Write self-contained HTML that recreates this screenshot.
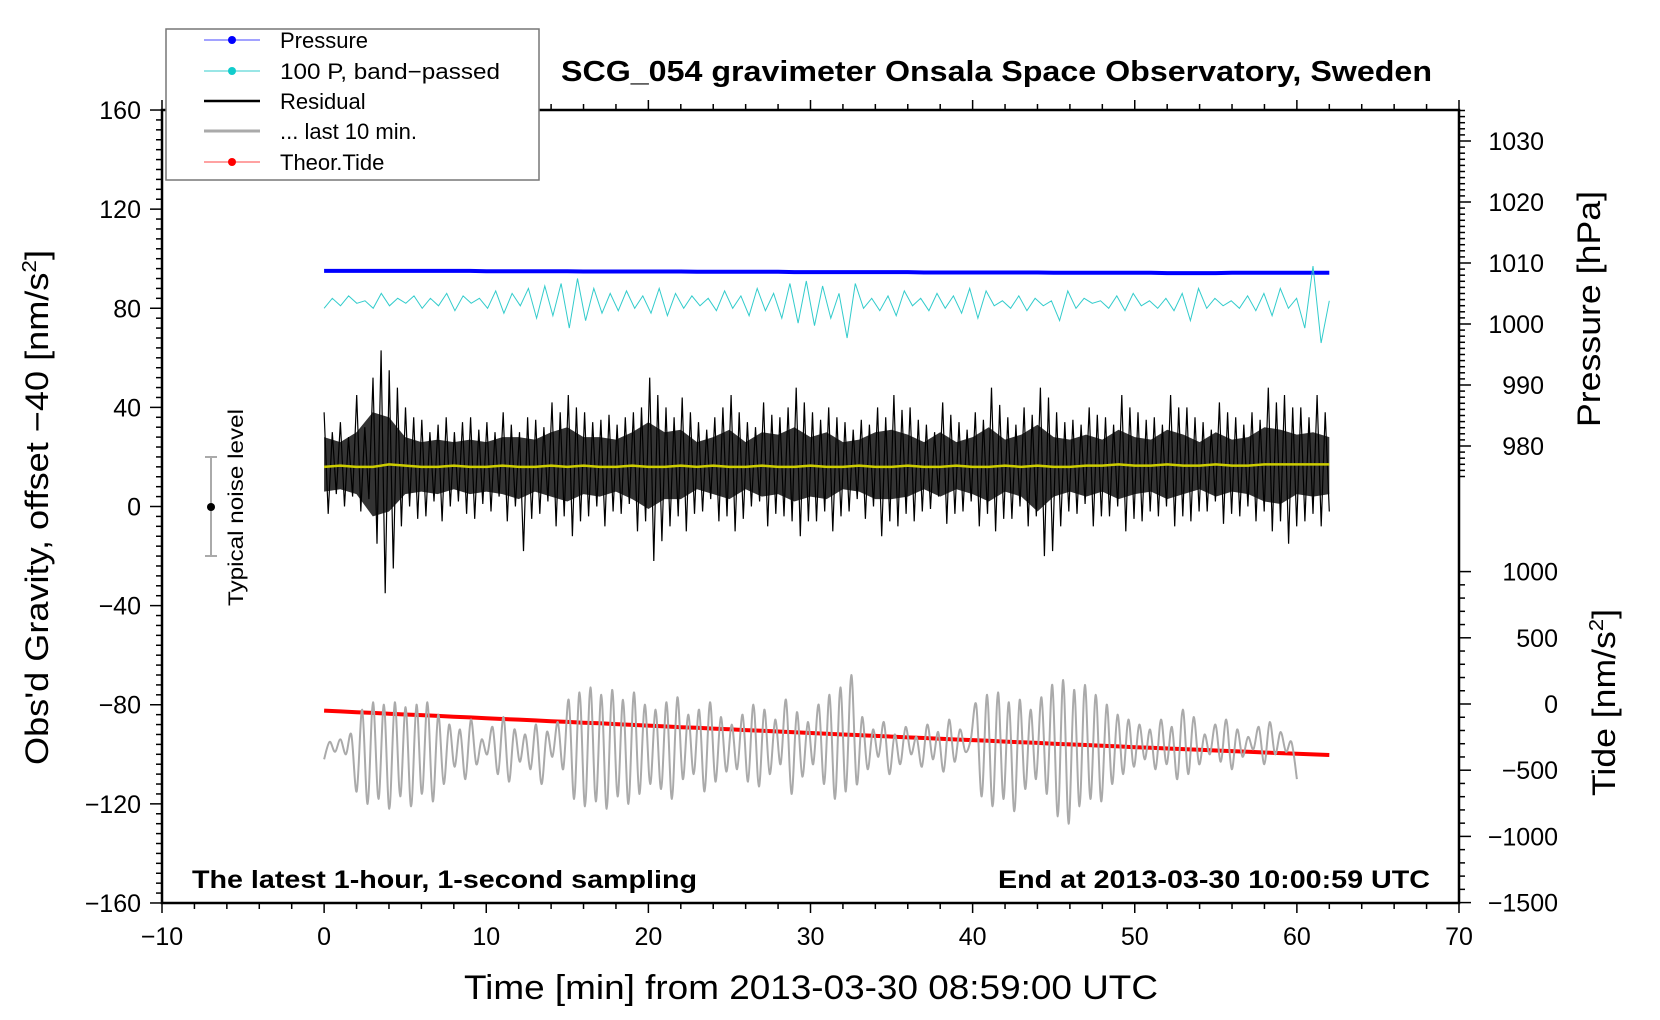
<!DOCTYPE html>
<html><head><meta charset="utf-8"><style>
body{margin:0;background:#fff}
svg{display:block;font-family:"Liberation Sans",Arial,sans-serif}
</style></head><body>
<svg id="chart" width="1660" height="1020" viewBox="0 0 1660 1020">
<g id="plot"></g>
<g id="axes"></g>
<text x="561" y="81" font-size="29" font-weight="bold" textLength="871" lengthAdjust="spacingAndGlyphs">SCG_054 gravimeter Onsala Space Observatory, Sweden</text>
<text x="192" y="888" font-size="25" font-weight="bold" textLength="505" lengthAdjust="spacingAndGlyphs">The latest 1-hour, 1-second sampling</text>
<text x="998" y="888" font-size="25" font-weight="bold" textLength="432" lengthAdjust="spacingAndGlyphs">End at 2013-03-30 10:00:59 UTC</text>
<text x="464" y="999" font-size="34" textLength="694" lengthAdjust="spacingAndGlyphs">Time [min] from 2013-03-30 08:59:00 UTC</text>
<text transform="translate(48,765) rotate(-90)" font-size="32" textLength="515" lengthAdjust="spacingAndGlyphs">Obs'd Gravity, offset −40 [nm/s<tspan font-size="20" dy="-12">2</tspan><tspan dy="12">]</tspan></text>
<text transform="translate(1600,427) rotate(-90)" font-size="32" textLength="236" lengthAdjust="spacingAndGlyphs">Pressure [hPa]</text>
<text transform="translate(1615,796) rotate(-90)" font-size="32" textLength="187" lengthAdjust="spacingAndGlyphs">Tide [nm/s<tspan font-size="20" dy="-12">2</tspan><tspan dy="12">]</tspan></text>
<g>
<line x1="211" y1="457" x2="211" y2="556" stroke="#aaa" stroke-width="2"/>
<line x1="205" y1="457" x2="217" y2="457" stroke="#aaa" stroke-width="2"/>
<line x1="205" y1="556" x2="217" y2="556" stroke="#aaa" stroke-width="2"/>
<circle cx="211" cy="507" r="4" fill="#000"/>
<text transform="translate(243,606) rotate(-90)" font-size="21" textLength="197" lengthAdjust="spacingAndGlyphs">Typical noise level</text>
</g>
<g>
<rect x="166" y="29" width="373" height="151" fill="#fff" stroke="#777" stroke-width="1.5"/>
<g><line x1="204" y1="40" x2="260" y2="40" stroke="#44f" stroke-width="1"/><circle cx="232" cy="40" r="4" fill="#00f"/><text x="280" y="48" font-size="22">Pressure</text></g>
<g><line x1="204" y1="71" x2="260" y2="71" stroke="#3cc" stroke-width="1"/><circle cx="232" cy="71" r="4" fill="#1cc"/><text x="280" y="79" font-size="22" textLength="220" lengthAdjust="spacingAndGlyphs">100 P, band−passed</text></g>
<g><line x1="204" y1="101" x2="260" y2="101" stroke="#000" stroke-width="2.5"/><text x="280" y="109" font-size="22">Residual</text></g>
<g><line x1="204" y1="131" x2="260" y2="131" stroke="#aaa" stroke-width="3"/><text x="280" y="139" font-size="22">... last 10 min.</text></g>
<g><line x1="204" y1="162" x2="260" y2="162" stroke="#f44" stroke-width="1"/><circle cx="232" cy="162" r="4" fill="#f00"/><text x="280" y="170" font-size="22">Theor.Tide</text></g>
</g>
</svg>
<script>
// ---- data ----
const xTicks=[-10,0,10,20,30,40,50,60,70];
const yTicks=[160,120,80,40,0,-40,-80,-120,-160];
const pTicks=[1030,1020,1010,1000,990,980];
const tTicks=[1000,500,0,-500,-1000,-1500];
const pressure=[1008.7,1008.7,1008.7,1008.7,1008.7,1008.7,1008.7,1008.7,1008.7,1008.7,1008.65,1008.65,1008.65,1008.65,1008.65,1008.65,1008.6,1008.6,1008.6,1008.6,1008.6,1008.6,1008.6,1008.55,1008.55,1008.55,1008.55,1008.55,1008.55,1008.5,1008.5,1008.5,1008.5,1008.5,1008.5,1008.5,1008.5,1008.45,1008.45,1008.45,1008.45,1008.45,1008.45,1008.45,1008.45,1008.4,1008.4,1008.4,1008.4,1008.4,1008.4,1008.4,1008.35,1008.35,1008.35,1008.35,1008.4,1008.4,1008.4,1008.4,1008.4,1008.4,1008.4];
const bandPassed=[80,84,81,85,82,83,80,86,81,84,82,85,80,84,81,86,79,85,82,84,80,87,78,86,81,88,76,89,77,90,72,92,75,88,78,86,79,87,80,85,78,88,77,86,80,85,81,84,79,87,80,85,77,88,79,86,76,90,74,91,73,89,76,86,68,90,80,84,79,85,77,87,81,84,79,86,80,85,78,88,76,87,81,83,80,85,79,84,81,83,75,87,80,84,82,83,80,85,79,86,81,83,80,84,79,86,75,88,80,84,81,83,80,85,79,86,77,88,80,84,72,97,66,83];
const residual=[38,-3,30,5,34,0,28,4,45,-2,32,3,52,-15,63,-35,55,-25,48,-8,40,0,36,-5,35,-4,30,2,33,-6,36,0,30,2,34,-3,36,-5,31,1,34,-2,30,4,38,-6,33,0,30,-18,36,-5,35,-3,32,2,42,-8,38,-4,45,-12,40,-6,38,-4,34,0,35,-8,37,-2,33,-3,36,1,38,-10,40,-6,52,-22,45,-14,40,-8,36,-4,44,-10,38,-3,34,-2,31,3,36,-6,40,-4,45,-10,38,-5,34,0,32,2,42,-8,37,-3,36,-4,40,-6,48,-12,42,-6,38,-6,35,-2,40,-10,36,-4,34,-2,31,3,35,-5,33,0,40,-12,36,-6,45,-8,39,-3,40,-6,35,-2,33,-1,30,4,42,-7,37,-3,34,-2,31,2,38,-8,35,-3,48,-10,41,-5,36,-5,33,0,40,-8,37,-4,48,-20,44,-18,38,-8,34,-2,35,-3,33,1,40,-8,37,-4,36,-4,33,0,45,-10,40,-5,38,-6,35,-2,36,-4,33,0,45,-8,40,-4,40,-6,36,-2,34,-2,31,2,42,-7,38,-3,36,-4,33,0,38,-6,35,-2,48,-10,42,-6,45,-15,40,-8,40,-6,36,-3,45,-8,38,-2];
const residHi=[28,26,30,38,36,28,26,27,26,27,26,28,28,27,30,32,28,28,27,30,34,30,31,26,28,31,26,30,29,32,28,30,26,27,30,31,29,26,30,26,28,32,27,29,33,28,27,29,27,31,28,27,31,29,26,30,27,28,32,31,29,30,28];
const residLo=[6,7,5,-4,-2,5,6,5,7,5,6,5,3,6,4,2,5,4,6,3,-1,3,3,7,5,3,7,4,5,2,4,3,7,6,3,3,4,7,4,7,5,2,6,4,-2,4,6,4,6,3,5,6,3,5,7,4,6,5,2,1,5,4,5];
const smoothed=[16,16.5,16,16,17,16.5,16,16,16.5,16,16,16.5,16,16,16.5,16,16.5,16,16,16.5,16,16,16.5,16,16.5,16,16,16.5,16,16,16.5,16,16,16.5,16,16,16.5,16,16,16.5,16,16,16.5,16,16.5,16,16,16.5,16.5,17,16.5,16.5,17,16.5,16.5,17,16.5,16.5,17,17,17,17,17];
const lastTen=[-102,-95,-99,-94,-100,-92,-115,-82,-120,-79,-118,-80,-122,-79,-117,-81,-121,-80,-116,-79,-119,-84,-112,-88,-105,-90,-110,-86,-104,-94,-100,-89,-108,-85,-111,-90,-103,-92,-106,-88,-112,-91,-101,-87,-106,-78,-118,-75,-121,-73,-119,-76,-122,-74,-117,-78,-120,-75,-116,-80,-112,-82,-114,-79,-118,-77,-110,-84,-108,-82,-115,-79,-111,-85,-107,-88,-106,-84,-111,-80,-113,-82,-108,-86,-104,-78,-116,-83,-109,-87,-104,-80,-112,-76,-118,-73,-115,-68,-112,-85,-106,-90,-101,-87,-108,-92,-104,-89,-100,-93,-105,-88,-102,-91,-107,-86,-103,-90,-99,-94,-80,-117,-76,-121,-75,-118,-79,-123,-78,-114,-82,-110,-77,-116,-72,-125,-70,-128,-74,-121,-72,-118,-76,-119,-80,-112,-84,-108,-86,-105,-88,-102,-90,-106,-86,-104,-89,-110,-82,-108,-85,-104,-92,-100,-88,-103,-86,-106,-90,-101,-93,-98,-89,-104,-87,-100,-91,-99,-95,-110];
const tide=[-50,-56,-62,-67,-73,-79,-84,-90,-96,-101,-107,-113,-118,-124,-130,-135,-141,-146,-152,-158,-163,-169,-175,-180,-186,-191,-197,-202,-208,-213,-219,-224,-230,-235,-241,-246,-252,-257,-262,-268,-273,-278,-284,-289,-294,-300,-305,-310,-315,-320,-326,-331,-336,-341,-346,-351,-356,-361,-366,-371,-376,-381,-385];

// ---- scales ----
const X=t=>162+(t+10)*16.2125;
const Y=v=>506.5-v*2.478;
const P=p=>263-(p-1010)*6.1;
const T=n=>704-n*0.1324;
const NS='http://www.w3.org/2000/svg';
function mk(tag,parent,attrs){const e=document.createElementNS(NS,tag);for(const k in attrs)e.setAttribute(k,attrs[k]);parent.appendChild(e);return e;}
const plot=document.getElementById('plot'), axes=document.getElementById('axes');
function pts(arr,t0,t1,f){return arr.map((v,i)=>X(t0+i*(t1-t0)/(arr.length-1)).toFixed(1)+','+f(v).toFixed(1)).join(' ');}

let el=mk('polyline',plot,{points:pts(pressure,0,62,P),fill:'none',stroke:'#0000ff','stroke-width':4});


el=mk('polyline',plot,{points:pts(bandPassed,0,62,Y),fill:'none',stroke:'#33cccc','stroke-width':1});


const hi=residHi.map((v,i)=>X(i*62/(residHi.length-1)).toFixed(1)+','+Y(v).toFixed(1));
const lo=residLo.map((v,i)=>X(i*62/(residLo.length-1)).toFixed(1)+','+Y(v).toFixed(1)).reverse();
el=mk('polygon',plot,{points:hi.concat(lo).join(' '),fill:'#333'});


el=mk('polyline',plot,{points:pts(residual,0,62,Y),fill:'none',stroke:'#000','stroke-width':1.2});


el=mk('polyline',plot,{points:pts(smoothed,0,62,Y),fill:'none',stroke:'#cccc00','stroke-width':2.5});


el=mk('polyline',plot,{points:pts(tide,0,62,T),fill:'none',stroke:'#ff0000','stroke-width':4});


(function(){const p=lastTen.map((v,i)=>[X(i*60/(lastTen.length-1)),Y(v)]);let d='M'+p[0][0].toFixed(1)+','+p[0][1].toFixed(1);
for(let i=0;i<p.length-1;i++){const a=p[Math.max(0,i-1)],b=p[i],c=p[i+1],e=p[Math.min(p.length-1,i+2)];
d+=' C'+(b[0]+(c[0]-a[0])/6).toFixed(1)+','+(b[1]+(c[1]-a[1])/6).toFixed(1)+' '+(c[0]-(e[0]-b[0])/6).toFixed(1)+','+(c[1]-(e[1]-b[1])/6).toFixed(1)+' '+c[0].toFixed(1)+','+c[1].toFixed(1);}
el=mk('path',plot,{d:d,fill:'none',stroke:'#aaaaaa','stroke-width':2});

})();

el=mk('rect',axes,{x:162,y:110,width:1297,height:793,fill:'none',stroke:'#000','stroke-width':2.5});


const tk={stroke:'#000','stroke-width':1.5};
for(let t=-10;t<=70;t+=2){const maj=t%10===0,L=maj?10:6;
mk('line',axes,Object.assign({x1:X(t),x2:X(t),y1:903,y2:903+L},tk));
mk('line',axes,Object.assign({x1:X(t),x2:X(t),y1:110,y2:110-L},tk));}
xTicks.forEach(t=>{el=mk('text',axes,{x:X(t),y:945,'text-anchor':'middle','font-size':25});el.textContent=String(t).replace('-','−');

});
for(let v=-160;v<=160;v+=4){const maj=v%40===0;mk('line',axes,Object.assign({x1:162,x2:maj?150:156,y1:Y(v),y2:Y(v)},tk));}
yTicks.forEach(v=>{el=mk('text',axes,{x:141,y:Y(v)+9,'text-anchor':'end','font-size':25});el.textContent=String(v).replace('-','−');

});
for(let p=975;p<=1035;p++){const maj=p%10===0,y=P(p);if(y<110)continue;mk('line',axes,Object.assign({x1:1459,x2:maj?1471:1465,y1:y,y2:y},tk));}
pTicks.forEach(p=>{el=mk('text',axes,{x:1544,y:P(p)+9,'text-anchor':'end','font-size':25});el.textContent=p;

});
for(let n=-1500;n<=1000;n+=100){const maj=n%500===0;mk('line',axes,Object.assign({x1:1459,x2:maj?1471:1465,y1:T(n),y2:T(n)},tk));}
tTicks.forEach(n=>{el=mk('text',axes,{x:1558,y:T(n)+9,'text-anchor':'end','font-size':25});el.textContent=String(n).replace('-','−');

});
</script>
</body></html>
